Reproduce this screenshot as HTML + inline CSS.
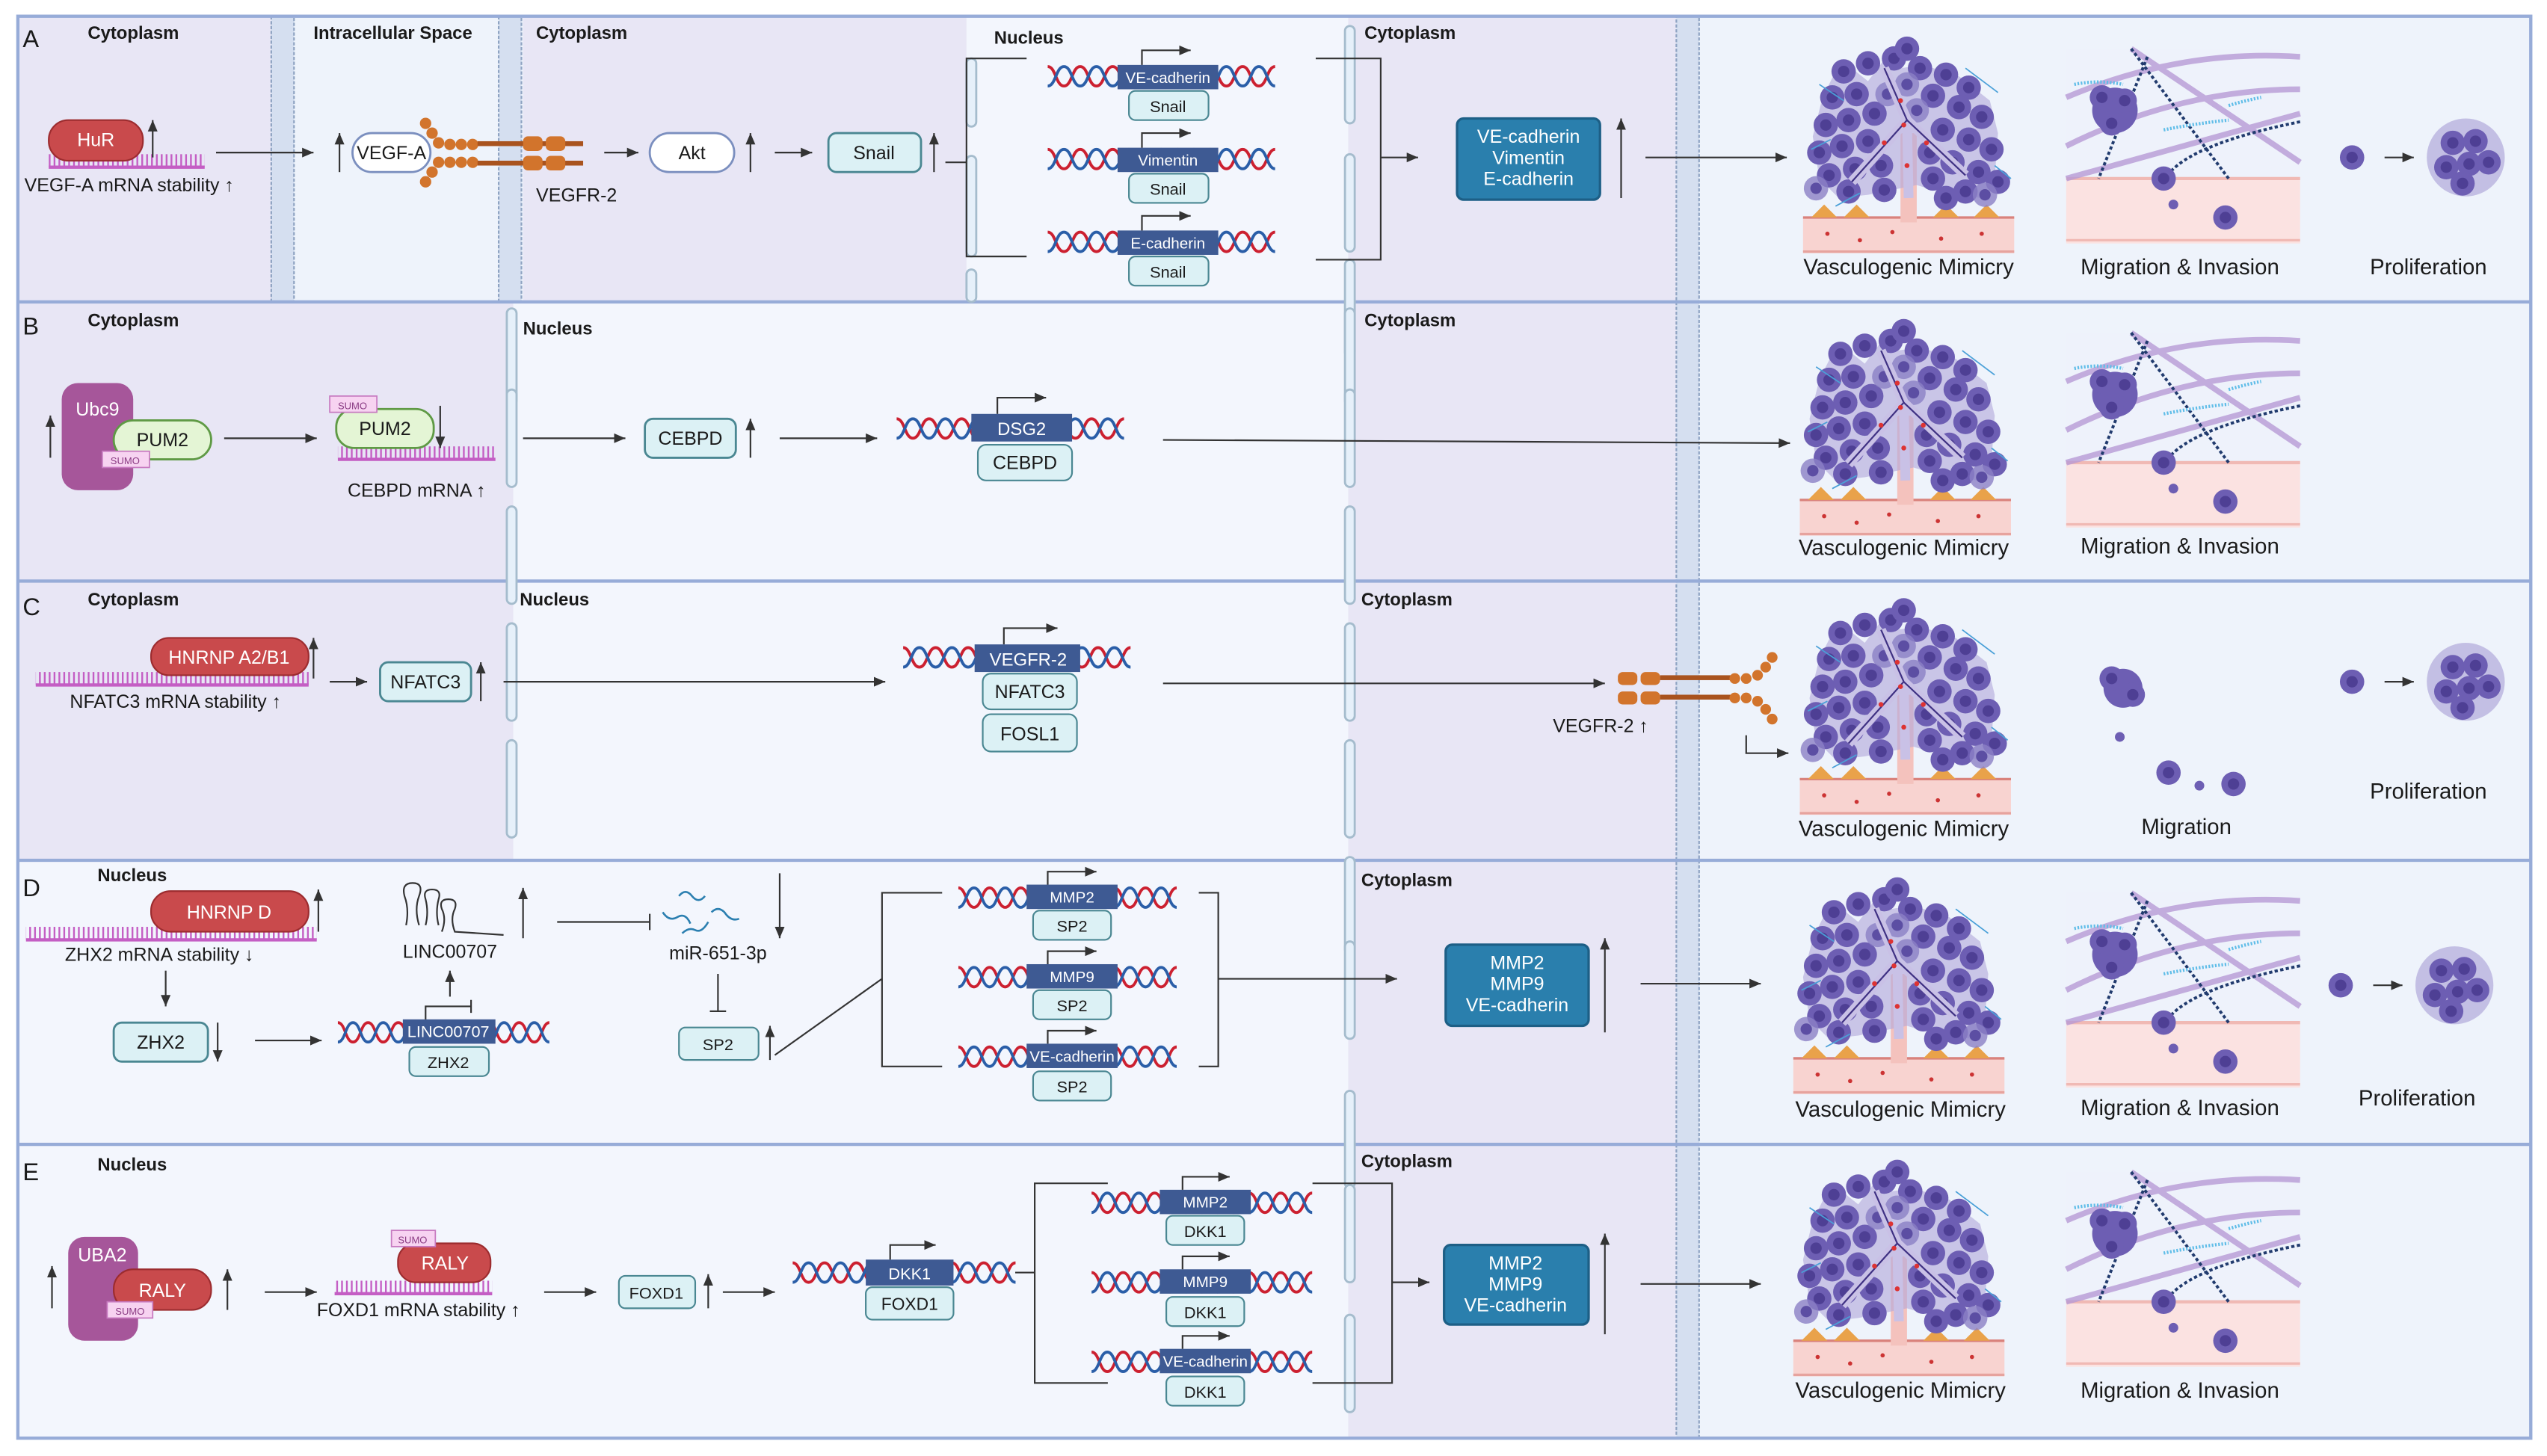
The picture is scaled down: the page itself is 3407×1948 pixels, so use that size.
<!DOCTYPE html>
<html><head><meta charset="utf-8"><style>
html,body{margin:0;padding:0;background:#fff;width:3407px;height:1948px;overflow:hidden}
svg{display:block}
text{font-family:"Liberation Sans",sans-serif;fill:#1a1a1a}
.h{font-weight:bold;font-size:11px}
.t{font-size:11.5px}
.L{font-size:13.5px}
.w{fill:#fff}
.a{stroke:#333;stroke-width:1;fill:none}
</style></head><body>
<svg width="3407" height="1948" viewBox="0 0 1568 897" preserveAspectRatio="none" xmlns="http://www.w3.org/2000/svg">
<defs>
<marker id="ah" markerWidth="8" markerHeight="8" refX="7" refY="4" orient="auto" markerUnits="userSpaceOnUse"><path d="M0,1 L7,4 L0,7z" fill="#333"/></marker>
<pattern id="cb" width="3" height="10" patternUnits="userSpaceOnUse"><rect x="0" y="0" width="1.1" height="10" fill="#c45ec4"/></pattern>
<g id="dna"><path d="M0,-6 C5,-6 5,6 10,6 S15,-6 20,-6 S25,6 30,6 S35,-6 40,-6 S45,6 50,6 S55,-6 60,-6 S65,6 70,6 S75,-6 80,-6 S85,6 90,6 S95,-6 100,-6 S105,6 110,6 S115,-6 120,-6 S125,6 130,6 S135,-6 140,-6" stroke="#cc2030" stroke-width="1.8" fill="none"/><path d="M0,6 C5,6 5,-6 10,-6 S15,6 20,6 S25,-6 30,-6 S35,6 40,6 S45,-6 50,-6 S55,6 60,6 S65,-6 70,-6 S75,6 80,6 S85,-6 90,-6 S95,6 100,6 S105,-6 110,-6 S115,6 120,6 S125,-6 130,-6 S135,6 140,6" stroke="#2a5ea8" stroke-width="1.8" fill="none"/></g>
<g id="c"><circle r="7.5" fill="#6d5eb3"/><circle r="3.5" fill="#4e3f94"/></g>
<g id="cL"><circle r="7.5" fill="#8b7fc6" opacity=".8"/><circle r="3.5" fill="#5c4ea3"/></g>
<g id="vm">
<rect x="0" y="112" width="130" height="22" fill="#f8d3d0"/><line x1="0" y1="112" x2="130" y2="112" stroke="#d9827c" stroke-width="1.5"/><line x1="0" y1="133" x2="130" y2="133" stroke="#e6a39e" stroke-width="1.5"/>
<path d="M5,112 l8,-8 8,8z M25,112 l8,-8 8,8z M80,112 l8,-8 8,8z M105,112 l8,-8 8,8z" fill="#e9a24a"/>
<rect x="60" y="60" width="10" height="55" fill="#f4c2bd"/>
<path d="M20,22 L30,20 L40,28 L52,12 L60,20 L74,18 L96,25 L115,40 L120,60 L118,88 L110,100 L95,98 L80,95 L70,92 L55,95 L40,98 L22,100 L10,88 L6,62 L12,38z" fill="#b1a7da" opacity=".6"/>
<use href="#c" x="25" y="22"/><use href="#c" x="40" y="17"/><use href="#c" x="56" y="14"/><use href="#c" x="72" y="20"/><use href="#c" x="88" y="24"/><use href="#c" x="102" y="32"/>
<use href="#c" x="18" y="38"/><use href="#c" x="33" y="36"/><use href="#c" x="80" y="37"/><use href="#c" x="96" y="44"/><use href="#c" x="110" y="50"/>
<use href="#c" x="14" y="55"/><use href="#c" x="28" y="52"/><use href="#c" x="44" y="48"/><use href="#c" x="86" y="58"/><use href="#c" x="102" y="64"/><use href="#c" x="116" y="70"/>
<use href="#c" x="10" y="72"/><use href="#c" x="24" y="68"/><use href="#c" x="40" y="65"/><use href="#c" x="78" y="72"/><use href="#c" x="92" y="78"/><use href="#c" x="108" y="84"/>
<use href="#c" x="16" y="86"/><use href="#c" x="32" y="82"/><use href="#c" x="48" y="80"/><use href="#c" x="80" y="88"/><use href="#c" x="100" y="96"/><use href="#c" x="28" y="96"/>
<use href="#c" x="50" y="95"/><use href="#c" x="88" y="100"/><use href="#c" x="120" y="90"/><use href="#c" x="64" y="8"/>
<use href="#cL" x="64" y="30"/><use href="#cL" x="52" y="36"/><use href="#cL" x="70" y="46"/><use href="#cL" x="112" y="98"/><use href="#cL" x="8" y="94"/>
<path d="M50,20 L64,52 L30,90 M64,52 L100,86 M64,52 L65,100" stroke="#c9c1e6" stroke-width="6" fill="none"/>
<path d="M50,20 L64,52 L30,90 M64,52 L100,86" stroke="#3f3183" stroke-width="1" fill="none"/>
<circle cx="60" cy="40" r="1.5" fill="#d33"/><circle cx="62" cy="55" r="1.5" fill="#d33"/><circle cx="50" cy="66" r="1.5" fill="#d33"/><circle cx="76" cy="66" r="1.5" fill="#d33"/><circle cx="64" cy="80" r="1.5" fill="#d33"/>
<circle cx="15" cy="122" r="1.3" fill="#c33"/><circle cx="35" cy="126" r="1.3" fill="#c33"/><circle cx="55" cy="121" r="1.3" fill="#c33"/><circle cx="85" cy="125" r="1.3" fill="#c33"/><circle cx="110" cy="122" r="1.3" fill="#c33"/>
<path d="M10,30 l15,10 M100,20 l20,15 M5,70 l12,-6 M118,80 l10,8 M20,105 l15,-8" stroke="#4aa0d8" stroke-width=".8"/>
</g>
<g id="mig">
<rect x="0" y="0" width="144" height="120" fill="#eef2fb"/>
<rect x="0" y="80" width="144" height="40" fill="#fbe2e1"/>
<line x1="0" y1="80" x2="144" y2="80" stroke="#f0b9b4" stroke-width="2"/><line x1="0" y1="118" x2="144" y2="118" stroke="#f0b9b4" stroke-width="1.5"/>
<path d="M0,30 Q70,0 144,5 M0,60 Q70,25 144,25 M40,0 L144,70 M0,80 L144,40" stroke="#b79ad6" stroke-width="3.5" fill="none" opacity=".8"/>
<path d="M40,0 Q70,40 100,80 M144,45 Q70,60 60,82 M50,5 L20,80" stroke="#213b6e" stroke-width="1.8" stroke-dasharray="2 1.5" fill="none"/>
<path d="M5,22 q15,-3 30,0 M60,50 q20,-4 40,-6 M100,35 q10,-3 20,-5" stroke="#5fbde8" stroke-width="2" stroke-dasharray="1 1" fill="none"/>
<circle cx="30" cy="38" r="14" fill="#6d5eb3"/><use href="#c" x="22" y="30"/><use href="#c" x="36" y="32"/><use href="#c" x="28" y="46"/>
<use href="#c" x="60" y="80"/><circle cx="66" cy="96" r="3" fill="#6d5eb3"/><use href="#c" x="98" y="104"/>
</g>
<g id="prol"><use href="#c" x="0" y="0"/><line x1="20" y1="0" x2="38" y2="0" class="a" marker-end="url(#ah)"/><circle cx="70" cy="0" r="24" fill="#a79dd6" opacity=".6"/><use href="#c" x="62" y="-9"/><use href="#c" x="76" y="-10"/><use href="#c" x="58" y="6"/><use href="#c" x="72" y="4"/><use href="#c" x="84" y="3"/><use href="#c" x="68" y="16"/></g>
<g id="env"><rect x="-3" y="0" width="6" height="60" rx="3" fill="#e6f0fa" stroke="#a5bccd" stroke-width="1.3"/></g>
</defs>

<rect width="1568" height="897" fill="#fff"/>
<g>
<rect x="11" y="10" width="1547" height="176" fill="#eef3fb"/>
<rect x="11" y="10" width="156" height="176" fill="#e8e6f5"/>
<rect x="322" y="10" width="273" height="176" fill="#e8e6f5"/>
<rect x="595" y="10" width="235" height="176" fill="#f3f6fd"/>
<rect x="830" y="10" width="202" height="176" fill="#e8e6f5"/>
<rect x="11" y="186" width="1547" height="344" fill="#eef3fb"/>
<rect x="11" y="186" width="305" height="344" fill="#e8e6f5"/>
<rect x="316" y="186" width="514" height="344" fill="#f3f6fd"/>
<rect x="830" y="186" width="202" height="344" fill="#e8e6f5"/>
<rect x="11" y="530" width="1547" height="356" fill="#eef3fb"/>
<rect x="11" y="530" width="819" height="356" fill="#f3f6fd"/>
<rect x="830" y="530" width="202" height="356" fill="#e8e6f5"/>
</g>
<g fill="#d5dff0" stroke="#8ea3c2" stroke-width="1" stroke-dasharray="2 1">
<rect x="167" y="10" width="14" height="176"/>
<rect x="307" y="10" width="14" height="176"/>
<rect x="1032" y="10" width="14" height="876"/>
</g>
<g fill="none" stroke="#97acd8" stroke-width="2">
<rect x="11" y="10" width="1547" height="876"/>
<line x1="11" y1="186" x2="1558" y2="186"/><line x1="11" y1="358" x2="1558" y2="358"/><line x1="11" y1="530" x2="1558" y2="530"/><line x1="11" y1="705" x2="1558" y2="705"/>
</g>
<g fill="#e6f0fa" stroke="#a5bccd" stroke-width="1.3">
<rect x="595" y="36" width="6" height="42" rx="3"/><rect x="595" y="96" width="6" height="62" rx="3"/><rect x="595" y="166" width="6" height="20" rx="3"/>
</g>
<use href="#env" x="831" y="16"/><use href="#env" x="831" y="95"/><use href="#env" x="831" y="160"/>
<use href="#env" x="315" y="190"/><use href="#env" x="315" y="240"/><use href="#env" x="315" y="312"/>
<use href="#env" x="831" y="190"/><use href="#env" x="831" y="240"/><use href="#env" x="831" y="312"/>
<use href="#env" x="315" y="384"/><use href="#env" x="315" y="456"/>
<use href="#env" x="831" y="384"/><use href="#env" x="831" y="456"/><use href="#env" x="831" y="528"/>
<use href="#env" x="831" y="580"/><use href="#env" x="831" y="672"/>
<use href="#env" x="831" y="730"/><use href="#env" x="831" y="810"/>

<!-- ======== A ======== -->
<text x="14" y="29" style="font-size:15px">A</text>
<text class="h" x="54" y="24">Cytoplasm</text><text class="h" x="193" y="24">Intracellular Space</text><text class="h" x="330" y="24">Cytoplasm</text><text class="h" x="612" y="27">Nucleus</text><text class="h" x="840" y="24">Cytoplasm</text>
<rect x="30" y="95" width="96" height="8" fill="url(#cb)"/><line x1="30" y1="103" x2="126" y2="103" stroke="#c45ec4" stroke-width="2"/>
<rect x="30" y="74" width="58" height="25" rx="12" fill="#c94a4c" stroke="#9c2c2f"/><text class="t w" x="59" y="90" text-anchor="middle">HuR</text>
<line x1="94" y1="97" x2="94" y2="74" class="a" marker-end="url(#ah)"/>
<text class="t" x="15" y="118">VEGF-A mRNA stability ↑</text>
<line x1="133" y1="94" x2="193" y2="94" class="a" marker-end="url(#ah)"/>
<line x1="209" y1="106" x2="209" y2="82" class="a" marker-end="url(#ah)"/>
<rect x="217" y="82" width="48" height="24" rx="12" fill="#fff" stroke="#7b8fbf" stroke-width="1.3"/><text class="t" x="241" y="98" text-anchor="middle">VEGF-A</text>
<g fill="#d2742c">
<circle cx="262" cy="76" r="3.5"/><circle cx="266" cy="82" r="3.5"/><circle cx="270" cy="88" r="3.5"/><circle cx="277" cy="89" r="3.5"/><circle cx="284" cy="89" r="3.5"/><circle cx="291" cy="89" r="3.5"/>
<circle cx="262" cy="112" r="3.5"/><circle cx="266" cy="106" r="3.5"/><circle cx="270" cy="100" r="3.5"/><circle cx="277" cy="100" r="3.5"/><circle cx="284" cy="100" r="3.5"/><circle cx="291" cy="100" r="3.5"/>
<rect x="294" y="87" width="65" height="3" fill="#a9531e"/><rect x="294" y="99" width="65" height="3" fill="#a9531e"/>
<rect x="322" y="84" width="12" height="9" rx="3"/><rect x="336" y="84" width="12" height="9" rx="3"/><rect x="322" y="96" width="12" height="9" rx="3"/><rect x="336" y="96" width="12" height="9" rx="3"/>
</g>
<text class="t" x="330" y="124">VEGFR-2</text>
<line x1="372" y1="94" x2="393" y2="94" class="a" marker-end="url(#ah)"/>
<rect x="400" y="82" width="52" height="24" rx="12" fill="#fff" stroke="#7b8fbf" stroke-width="1.3"/><text class="t" x="426" y="98" text-anchor="middle">Akt</text>
<line x1="462" y1="106" x2="462" y2="82" class="a" marker-end="url(#ah)"/>
<line x1="477" y1="94" x2="500" y2="94" class="a" marker-end="url(#ah)"/>
<rect x="510" y="82" width="57" height="24" rx="5" fill="#dcf1f5" stroke="#4a8792" stroke-width="1.3"/><text class="t" x="538" y="98" text-anchor="middle">Snail</text>
<line x1="575" y1="106" x2="575" y2="82" class="a" marker-end="url(#ah)"/>
<path d="M582,100 H595 M632,36 H595 V158 H632" class="a"/>
<use href="#dna" x="645" y="47"/><use href="#dna" x="645" y="98"/><use href="#dna" x="645" y="149"/>
<g fill="#3e5a93"><rect x="688" y="40" width="62" height="15"/><rect x="688" y="91" width="62" height="15"/><rect x="688" y="142" width="62" height="15"/></g>
<g style="font-size:9.5px"><text class="w" x="719" y="51" text-anchor="middle">VE-cadherin</text><text class="w" x="719" y="102" text-anchor="middle">Vimentin</text><text class="w" x="719" y="153" text-anchor="middle">E-cadherin</text></g>
<path d="M703,40 V31 H733" class="a" marker-end="url(#ah)"/><path d="M703,91 V82 H733" class="a" marker-end="url(#ah)"/><path d="M703,142 V133 H733" class="a" marker-end="url(#ah)"/>
<g fill="#dcf1f5" stroke="#4a8792"><rect x="695" y="56" width="49" height="18" rx="4"/><rect x="695" y="107" width="49" height="18" rx="4"/><rect x="695" y="158" width="49" height="18" rx="4"/></g>
<g style="font-size:10px"><text x="719" y="69" text-anchor="middle">Snail</text><text x="719" y="120" text-anchor="middle">Snail</text><text x="719" y="171" text-anchor="middle">Snail</text></g>
<path d="M810,36 H850 V160 H810 M850,97 H873" class="a" marker-end="url(#ah)"/>
<rect x="897" y="73" width="88" height="50" rx="4" fill="#2a7fad" stroke="#1d5f86" stroke-width="1.5"/>
<g style="font-size:11.5px"><text class="w" x="941" y="88" text-anchor="middle">VE-cadherin</text><text class="w" x="941" y="101" text-anchor="middle">Vimentin</text><text class="w" x="941" y="114" text-anchor="middle">E-cadherin</text></g>
<line x1="998" y1="122" x2="998" y2="73" class="a" marker-end="url(#ah)"/>
<line x1="1013" y1="97" x2="1100" y2="97" class="a" marker-end="url(#ah)"/>
<use href="#vm" x="1110" y="22"/><text class="L" x="1175" y="169" text-anchor="middle">Vasculogenic Mimicry</text>
<use href="#mig" x="1272" y="30"/><text class="L" x="1342" y="169" text-anchor="middle">Migration &amp; Invasion</text>
<use href="#prol" x="1448" y="97"/><text class="L" x="1495" y="169" text-anchor="middle">Proliferation</text>

<!-- ======== B ======== -->
<text x="14" y="206" style="font-size:15px">B</text>
<text class="h" x="54" y="201">Cytoplasm</text><text class="h" x="322" y="206">Nucleus</text><text class="h" x="840" y="201">Cytoplasm</text>
<line x1="31" y1="282" x2="31" y2="256" class="a" marker-end="url(#ah)"/>
<rect x="38" y="236" width="44" height="66" rx="10" fill="#a6569a"/><text class="t w" x="60" y="256" text-anchor="middle">Ubc9</text>
<rect x="70" y="259" width="60" height="24" rx="12" fill="#e4f5d5" stroke="#5f9a45" stroke-width="1.3"/><text class="t" x="100" y="275" text-anchor="middle">PUM2</text>
<rect x="63" y="278" width="29" height="10" fill="#f7d3f1" stroke="#c77ac0" stroke-width=".8"/><text x="77" y="286" text-anchor="middle" style="font-size:6px;fill:#8b3c84">SUMO</text>
<line x1="138" y1="270" x2="195" y2="270" class="a" marker-end="url(#ah)"/>
<rect x="208" y="275" width="97" height="8" fill="url(#cb)"/><line x1="208" y1="283" x2="305" y2="283" stroke="#c45ec4" stroke-width="2"/>
<rect x="207" y="252" width="60" height="24" rx="11" fill="#e4f5d5" stroke="#5f9a45" stroke-width="1.3"/><text class="t" x="237" y="268" text-anchor="middle">PUM2</text>
<rect x="203" y="244" width="29" height="10" fill="#f7d3f1" stroke="#c77ac0" stroke-width=".8"/><text x="217" y="252" text-anchor="middle" style="font-size:6px;fill:#8b3c84">SUMO</text>
<line x1="271" y1="250" x2="271" y2="276" class="a" marker-end="url(#ah)"/>
<text class="t" x="214" y="306">CEBPD mRNA  ↑</text>
<line x1="322" y1="270" x2="385" y2="270" class="a" marker-end="url(#ah)"/>
<rect x="397" y="258" width="56" height="24" rx="5" fill="#dcf1f5" stroke="#4a8792" stroke-width="1.3"/><text class="t" x="425" y="274" text-anchor="middle">CEBPD</text>
<line x1="462" y1="282" x2="462" y2="258" class="a" marker-end="url(#ah)"/>
<line x1="480" y1="270" x2="540" y2="270" class="a" marker-end="url(#ah)"/>
<use href="#dna" x="552" y="264"/>
<rect x="598" y="255" width="62" height="17" fill="#3e5a93"/><text class="w" x="629" y="268" text-anchor="middle" style="font-size:11px">DSG2</text>
<path d="M614,255 V245 H644" class="a" marker-end="url(#ah)"/>
<rect x="602" y="274" width="58" height="22" rx="5" fill="#dcf1f5" stroke="#4a8792"/><text class="t" x="631" y="289" text-anchor="middle">CEBPD</text>
<line x1="716" y1="271" x2="1102" y2="273" class="a" marker-end="url(#ah)"/>
<use href="#vm" x="1108" y="196"/><text class="L" x="1172" y="342" text-anchor="middle">Vasculogenic Mimicry</text>
<use href="#mig" x="1272" y="205"/><text class="L" x="1342" y="341" text-anchor="middle">Migration &amp; Invasion</text>

<!-- ======== C ======== -->
<text x="14" y="379" style="font-size:15px">C</text>
<text class="h" x="54" y="373">Cytoplasm</text><text class="h" x="320" y="373">Nucleus</text><text class="h" x="838" y="373">Cytoplasm</text>
<rect x="22" y="414" width="168" height="8" fill="url(#cb)"/><line x1="22" y1="422" x2="190" y2="422" stroke="#c45ec4" stroke-width="2"/>
<rect x="93" y="393" width="97" height="23" rx="11" fill="#c94a4c" stroke="#9c2c2f"/><text class="t w" x="141" y="409" text-anchor="middle">HNRNP A2/B1</text>
<line x1="193" y1="418" x2="193" y2="393" class="a" marker-end="url(#ah)"/>
<text class="t" x="43" y="436">NFATC3 mRNA stability  ↑</text>
<line x1="203" y1="420" x2="226" y2="420" class="a" marker-end="url(#ah)"/>
<rect x="234" y="408" width="56" height="24" rx="5" fill="#dcf1f5" stroke="#4a8792" stroke-width="1.3"/><text class="t" x="262" y="424" text-anchor="middle">NFATC3</text>
<line x1="296" y1="432" x2="296" y2="408" class="a" marker-end="url(#ah)"/>
<line x1="310" y1="420" x2="545" y2="420" class="a" marker-end="url(#ah)"/>
<use href="#dna" x="556" y="405"/>
<rect x="600" y="397" width="65" height="17" fill="#3e5a93"/><text class="w" x="633" y="410" text-anchor="middle" style="font-size:11px">VEGFR-2</text>
<path d="M618,397 V387 H651" class="a" marker-end="url(#ah)"/>
<rect x="605" y="415" width="58" height="22" rx="5" fill="#dcf1f5" stroke="#4a8792"/><text class="t" x="634" y="430" text-anchor="middle">NFATC3</text>
<rect x="605" y="440" width="58" height="23" rx="5" fill="#dcf1f5" stroke="#4a8792"/><text class="t" x="634" y="456" text-anchor="middle">FOSL1</text>
<line x1="716" y1="421" x2="988" y2="421" class="a" marker-end="url(#ah)"/>
<g fill="#d2742c">
<rect x="996" y="414" width="12" height="8" rx="3"/><rect x="1010" y="414" width="12" height="8" rx="3"/><rect x="996" y="426" width="12" height="8" rx="3"/><rect x="1010" y="426" width="12" height="8" rx="3"/>
<rect x="1022" y="416" width="45" height="3" fill="#a9531e"/><rect x="1022" y="428" width="45" height="3" fill="#a9531e"/>
<circle cx="1068" cy="418" r="3.3"/><circle cx="1075" cy="418" r="3.3"/><circle cx="1082" cy="416" r="3.3"/><circle cx="1087" cy="411" r="3.3"/><circle cx="1091" cy="405" r="3.3"/>
<circle cx="1068" cy="430" r="3.3"/><circle cx="1075" cy="430" r="3.3"/><circle cx="1082" cy="432" r="3.3"/><circle cx="1087" cy="437" r="3.3"/><circle cx="1091" cy="443" r="3.3"/>
</g>
<text class="t" x="956" y="451">VEGFR-2 ↑</text>
<path d="M1075,453 V464 H1101" class="a" marker-end="url(#ah)"/>
<use href="#vm" x="1108" y="368"/><text class="L" x="1172" y="515" text-anchor="middle">Vasculogenic Mimicry</text>
<circle cx="1307" cy="424" r="12" fill="#6d5eb3"/><use href="#c" x="1300" y="418"/><use href="#c" x="1313" y="428"/><circle cx="1305" cy="454" r="3" fill="#6d5eb3"/>
<use href="#c" x="1335" y="476"/><circle cx="1354" cy="484" r="3" fill="#6d5eb3"/><use href="#c" x="1375" y="483"/>
<text class="L" x="1346" y="514" text-anchor="middle">Migration</text>
<use href="#prol" x="1448" y="420"/><text class="L" x="1495" y="492" text-anchor="middle">Proliferation</text>

<!-- ======== D ======== -->
<text x="14" y="552" style="font-size:15px">D</text>
<text class="h" x="60" y="543">Nucleus</text><text class="h" x="838" y="546">Cytoplasm</text>
<rect x="16" y="571" width="179" height="8" fill="url(#cb)"/><line x1="16" y1="579" x2="195" y2="579" stroke="#c45ec4" stroke-width="2"/>
<rect x="93" y="549" width="97" height="25" rx="12" fill="#c94a4c" stroke="#9c2c2f"/><text class="t w" x="141" y="566" text-anchor="middle">HNRNP D</text>
<line x1="196" y1="574" x2="196" y2="548" class="a" marker-end="url(#ah)"/>
<text class="t" x="40" y="592">ZHX2 mRNA stability ↓</text>
<line x1="102" y1="598" x2="102" y2="620" class="a" marker-end="url(#ah)"/>
<rect x="70" y="630" width="58" height="24" rx="5" fill="#dcf1f5" stroke="#4a8792" stroke-width="1.3"/><text class="t" x="99" y="646" text-anchor="middle">ZHX2</text>
<line x1="134" y1="630" x2="134" y2="654" class="a" marker-end="url(#ah)"/>
<line x1="157" y1="641" x2="198" y2="641" class="a" marker-end="url(#ah)"/>
<use href="#dna" x="208" y="636" transform="translate(208,636) scale(.93,1) translate(-208,-636)"/>
<rect x="248" y="628" width="57" height="15" fill="#3e5a93"/><text class="w" x="276" y="639" text-anchor="middle" style="font-size:10px">LINC00707</text>
<path d="M262,628 V620 H290 M290,616 V624" class="a"/>
<rect x="252" y="645" width="49" height="18" rx="4" fill="#dcf1f5" stroke="#4a8792"/><text x="276" y="658" text-anchor="middle" style="font-size:10px">ZHX2</text>
<line x1="277" y1="614" x2="277" y2="598" class="a" marker-end="url(#ah)"/>
<path d="M250,570 q2,-10 -1,-18 q-2,-8 5,-8 q7,0 4,8 q-3,8 0,18 M262,570 q2,-8 0,-16 q-2,-6 4,-6 q6,0 4,6 q-2,8 0,16 M272,574 q3,-8 0,-14 q-2,-6 4,-6 q6,0 4,6 q-3,6 0,14 L310,576" stroke="#333" stroke-width="1" fill="none"/>
<text class="t" x="277" y="590" text-anchor="middle">LINC00707</text>
<line x1="322" y1="578" x2="322" y2="547" class="a" marker-end="url(#ah)"/>
<path d="M343,568 H400 M400,563 V573" class="a"/>
<g stroke="#2b7fb0" stroke-width="1.2" fill="none"><path d="M418,552 q4,-5 8,0 q4,5 8,0"/><path d="M408,562 q4,6 9,3 q5,-3 8,4"/><path d="M438,562 q4,-4 8,0 q4,6 9,4"/><path d="M420,575 q4,-4 8,-2 q4,2 8,-5"/></g>
<text class="t" x="442" y="591" text-anchor="middle">miR-651-3p</text>
<line x1="480" y1="538" x2="480" y2="578" class="a" marker-end="url(#ah)"/>
<path d="M442,600 V623 M437,623 H447" class="a"/>
<rect x="418" y="633" width="49" height="20" rx="4" fill="#dcf1f5" stroke="#4a8792"/><text x="442" y="647" text-anchor="middle" style="font-size:10px">SP2</text>
<line x1="474" y1="653" x2="474" y2="632" class="a" marker-end="url(#ah)"/>
<path d="M477,650 L543,603 M580,550 H543 V657 H580" class="a"/>
<use href="#dna" x="590" y="553" transform="translate(590,553) scale(.96,1) translate(-590,-553)"/><use href="#dna" x="590" y="602" transform="translate(590,602) scale(.96,1) translate(-590,-602)"/><use href="#dna" x="590" y="651" transform="translate(590,651) scale(.96,1) translate(-590,-651)"/>
<g fill="#3e5a93"><rect x="632" y="545" width="56" height="15"/><rect x="632" y="594" width="56" height="15"/><rect x="632" y="643" width="56" height="15"/></g>
<g style="font-size:9.5px"><text class="w" x="660" y="556" text-anchor="middle">MMP2</text><text class="w" x="660" y="605" text-anchor="middle">MMP9</text><text class="w" x="660" y="654" text-anchor="middle">VE-cadherin</text></g>
<path d="M645,545 V537 H675" class="a" marker-end="url(#ah)"/><path d="M645,594 V586 H675" class="a" marker-end="url(#ah)"/><path d="M645,643 V635 H675" class="a" marker-end="url(#ah)"/>
<g fill="#dcf1f5" stroke="#4a8792"><rect x="636" y="561" width="48" height="18" rx="4"/><rect x="636" y="610" width="48" height="18" rx="4"/><rect x="636" y="660" width="48" height="18" rx="4"/></g>
<g style="font-size:10px"><text x="660" y="574" text-anchor="middle">SP2</text><text x="660" y="623" text-anchor="middle">SP2</text><text x="660" y="673" text-anchor="middle">SP2</text></g>
<path d="M738,550 H750 V657 H738 M750,603 H860" class="a" marker-end="url(#ah)"/>
<rect x="890" y="582" width="88" height="50" rx="4" fill="#2a7fad" stroke="#1d5f86" stroke-width="1.5"/>
<g style="font-size:11.5px"><text class="w" x="934" y="597" text-anchor="middle">MMP2</text><text class="w" x="934" y="610" text-anchor="middle">MMP9</text><text class="w" x="934" y="623" text-anchor="middle">VE-cadherin</text></g>
<line x1="988" y1="636" x2="988" y2="578" class="a" marker-end="url(#ah)"/>
<line x1="1010" y1="606" x2="1084" y2="606" class="a" marker-end="url(#ah)"/>
<use href="#vm" x="1104" y="540"/><text class="L" x="1170" y="688" text-anchor="middle">Vasculogenic Mimicry</text>
<use href="#mig" x="1272" y="550"/><text class="L" x="1342" y="687" text-anchor="middle">Migration &amp; Invasion</text>
<use href="#prol" x="1441" y="607"/><text class="L" x="1488" y="681" text-anchor="middle">Proliferation</text>

<!-- ======== E ======== -->
<text x="14" y="727" style="font-size:15px">E</text>
<text class="h" x="60" y="721">Nucleus</text><text class="h" x="838" y="719">Cytoplasm</text>
<line x1="32" y1="806" x2="32" y2="780" class="a" marker-end="url(#ah)"/>
<rect x="42" y="762" width="43" height="64" rx="10" fill="#a6569a"/><text class="t w" x="63" y="777" text-anchor="middle">UBA2</text>
<rect x="70" y="782" width="60" height="25" rx="12" fill="#c94a4c" stroke="#9c2c2f"/><text class="t w" x="100" y="799" text-anchor="middle">RALY</text>
<rect x="66" y="802" width="28" height="10" fill="#f7d3f1" stroke="#c77ac0" stroke-width=".8"/><text x="80" y="810" text-anchor="middle" style="font-size:6px;fill:#8b3c84">SUMO</text>
<line x1="140" y1="807" x2="140" y2="782" class="a" marker-end="url(#ah)"/>
<line x1="163" y1="796" x2="195" y2="796" class="a" marker-end="url(#ah)"/>
<rect x="206" y="789" width="97" height="8" fill="url(#cb)"/><line x1="206" y1="797" x2="303" y2="797" stroke="#c45ec4" stroke-width="2"/>
<rect x="245" y="766" width="57" height="24" rx="11" fill="#c94a4c" stroke="#9c2c2f"/><text class="t w" x="274" y="782" text-anchor="middle">RALY</text>
<rect x="241" y="758" width="27" height="10" fill="#f7d3f1" stroke="#c77ac0" stroke-width=".8"/><text x="254" y="766" text-anchor="middle" style="font-size:6px;fill:#8b3c84">SUMO</text>
<text class="t" x="195" y="811">FOXD1 mRNA stability ↑</text>
<line x1="335" y1="796" x2="367" y2="796" class="a" marker-end="url(#ah)"/>
<rect x="381" y="786" width="47" height="20" rx="4" fill="#dcf1f5" stroke="#4a8792"/><text x="404" y="800" text-anchor="middle" style="font-size:10px">FOXD1</text>
<line x1="436" y1="806" x2="436" y2="785" class="a" marker-end="url(#ah)"/>
<line x1="445" y1="796" x2="477" y2="796" class="a" marker-end="url(#ah)"/>
<use href="#dna" x="488" y="784" transform="translate(488,784) scale(.98,1) translate(-488,-784)"/>
<rect x="533" y="776" width="54" height="16" fill="#3e5a93"/><text class="w" x="560" y="788" text-anchor="middle" style="font-size:10px">DKK1</text>
<path d="M548,776 V767 H576" class="a" marker-end="url(#ah)"/>
<rect x="533" y="793" width="54" height="20" rx="4" fill="#dcf1f5" stroke="#4a8792"/><text x="560" y="807" text-anchor="middle" style="font-size:10.5px">FOXD1</text>
<path d="M625,784 H637 M682,729 H637 V852 H682" class="a"/>
<use href="#dna" x="672" y="741" transform="translate(672,741) scale(.97,1) translate(-672,-741)"/><use href="#dna" x="672" y="790" transform="translate(672,790) scale(.97,1) translate(-672,-790)"/><use href="#dna" x="672" y="839" transform="translate(672,839) scale(.97,1) translate(-672,-839)"/>
<g fill="#3e5a93"><rect x="714" y="733" width="56" height="15"/><rect x="714" y="782" width="56" height="15"/><rect x="714" y="831" width="56" height="15"/></g>
<g style="font-size:9.5px"><text class="w" x="742" y="744" text-anchor="middle">MMP2</text><text class="w" x="742" y="793" text-anchor="middle">MMP9</text><text class="w" x="742" y="842" text-anchor="middle">VE-cadherin</text></g>
<path d="M728,733 V725 H757" class="a" marker-end="url(#ah)"/><path d="M728,782 V774 H757" class="a" marker-end="url(#ah)"/><path d="M728,831 V823 H757" class="a" marker-end="url(#ah)"/>
<g fill="#dcf1f5" stroke="#4a8792"><rect x="718" y="749" width="48" height="18" rx="4"/><rect x="718" y="799" width="48" height="18" rx="4"/><rect x="718" y="848" width="48" height="18" rx="4"/></g>
<g style="font-size:10px"><text x="742" y="762" text-anchor="middle">DKK1</text><text x="742" y="812" text-anchor="middle">DKK1</text><text x="742" y="861" text-anchor="middle">DKK1</text></g>
<path d="M808,729 H857 V852 H808 M857,790 H880" class="a" marker-end="url(#ah)"/>
<rect x="889" y="767" width="89" height="49" rx="4" fill="#2a7fad" stroke="#1d5f86" stroke-width="1.5"/>
<g style="font-size:11.5px"><text class="w" x="933" y="782" text-anchor="middle">MMP2</text><text class="w" x="933" y="795" text-anchor="middle">MMP9</text><text class="w" x="933" y="808" text-anchor="middle">VE-cadherin</text></g>
<line x1="988" y1="822" x2="988" y2="760" class="a" marker-end="url(#ah)"/>
<line x1="1010" y1="791" x2="1084" y2="791" class="a" marker-end="url(#ah)"/>
<use href="#vm" x="1104" y="714"/><text class="L" x="1170" y="861" text-anchor="middle">Vasculogenic Mimicry</text>
<use href="#mig" x="1272" y="722"/><text class="L" x="1342" y="861" text-anchor="middle">Migration &amp; Invasion</text>
</svg>
</body></html>
